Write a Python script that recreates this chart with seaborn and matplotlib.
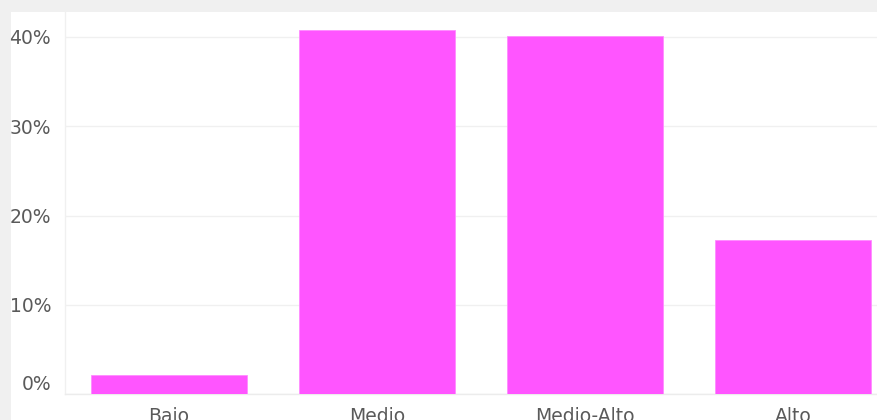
import numpy as np
import pandas as pd
import matplotlib
matplotlib.use('Agg')
import matplotlib.pyplot as plt
from matplotlib.patches import Rectangle
from matplotlib.ticker import FuncFormatter, FixedLocator
from matplotlib.transforms import ScaledTranslation
import seaborn as sns

# data (percent)
categorias = ['Bajo', 'Medio', 'Medio-Alto', 'Alto']
porcentajes = [2.15, 40.8, 40.1, 17.25]
yticks = [0, 10, 20, 30, 40]

df = pd.DataFrame({'nivel': categorias, 'pct': porcentajes})

sns.set_style('white')
plt.rcParams['font.family'] = ['DejaVu Sans']

W, H = 878, 420
fig = plt.figure(figsize=(W / 100, H / 100), dpi=100, facecolor='#f0f0f0')

# white panel behind the plot
fig.patches.append(Rectangle((11 / W, 0), 1, (H - 12) / H, transform=fig.transFigure,
                             facecolor='white', edgecolor='none', zorder=-10))

y0 = 394.3   # pixel row of 0%
ytop = 12
ppu = 8.94   # pixels per percent
ax = fig.add_axes([65 / W, (H - y0) / H, 832 / W, (y0 - ytop) / H])
ax.set_facecolor('white')

sns.barplot(data=df, x='nivel', y='pct', color='#ff55ff', saturation=1, width=0.75,
            edgecolor='#ff8cff', linewidth=0.6, ax=ax, zorder=3)

ax.set_xlim(-0.5, 3.5)
ax.set_ylim(0, (y0 - ytop) / ppu)
ax.yaxis.set_major_locator(FixedLocator(yticks))
ax.yaxis.set_major_formatter(FuncFormatter(lambda v, p: f'{v:.0f}%'))
ax.grid(axis='y', color='#f0f0f0', linewidth=1, zorder=0)
ax.set_xlabel('')
ax.set_ylabel('')

# ticks at category boundaries, labels in the middle
ax.set_xticks(np.arange(len(categorias)))
ax.set_xticklabels(categorias)
ax.tick_params(axis='x', length=0, pad=9, labelsize=13.5, labelcolor='#5a5a5a')
ax.xaxis.set_minor_locator(FixedLocator(np.arange(len(categorias) + 1) - 0.5))
ax.tick_params(axis='x', which='minor', length=8, color='#ececec', width=1)
ax.tick_params(axis='y', length=8, color='#f0f0f0', width=1, pad=2,
               labelsize=13.5, labelcolor='#5a5a5a')

# the 0% label sits a little above its line
lab0 = ax.yaxis.get_major_ticks()[0].label1
lab0.set_transform(lab0.get_transform() + ScaledTranslation(0, 0.12, fig.dpi_scale_trans))

for s in ['top', 'right']:
    ax.spines[s].set_visible(False)
ax.spines['left'].set_color('#f0f0f0')
ax.spines['bottom'].set_color('#ececec')
ax.spines['left'].set_linewidth(1)
ax.spines['bottom'].set_linewidth(1)

fig.savefig('out.png', dpi=100, facecolor=fig.get_facecolor())
